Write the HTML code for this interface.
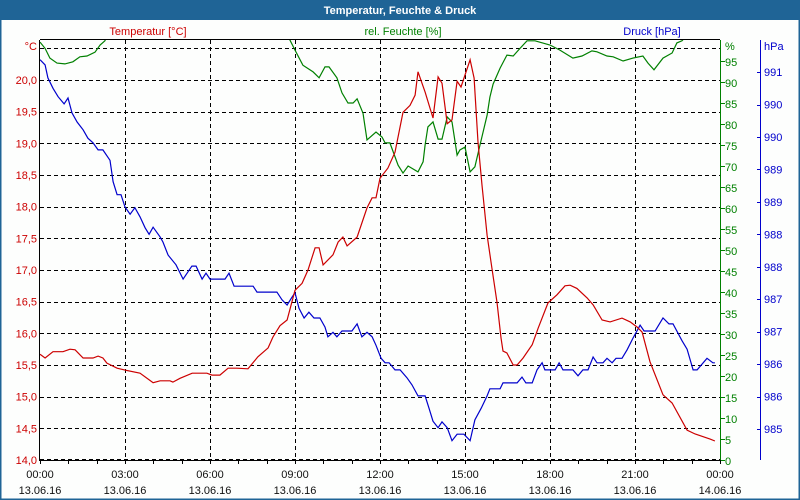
<!DOCTYPE html>
<html><head><meta charset="utf-8"><style>
html,body{margin:0;padding:0;background:#fff}
#wrap{position:relative;width:800px;height:500px;overflow:hidden;background:#fdfefd}
svg{position:absolute;left:0;top:0}
text{font-family:"Liberation Sans",sans-serif;font-size:11px}
</style></head><body>
<div id="wrap">
<svg id="chart" width="800" height="500" viewBox="0 0 800 500"></svg>
</div>
<script>
// Temperature series (hours since 13.06.16 00:00, °C)
const tempTimes=[0,.18,.46,.81,1.06,1.24,1.52,1.87,2.05,2.22,2.36,2.72,3.0,3.53,3.99,4.24,4.59,4.69,4.94,5.37,5.89,6.07,6.35,6.64,6.95,7.34,7.69,8.05,8.22,8.47,8.72,9.0,9.25,9.46,9.71,9.85,9.99,10.34,10.52,10.69,10.84,11.19,11.54,11.72,11.86,12.0,12.28,12.53,12.81,13.06,13.24,13.34,13.59,13.87,14.05,14.19,14.37,14.54,14.72,14.86,15.18,15.32,15.46,15.6,15.78,15.95,16.13,16.27,16.34,16.48,16.7,16.84,17.05,17.37,17.58,17.93,18.25,18.53,18.71,18.95,19.31,19.52,19.84,20.12,20.54,20.83,21.07,21.25,21.53,21.99,22.31,22.84,23.12,23.65,23.82];
const tempValues=[15.67,15.61,15.71,15.71,15.75,15.74,15.61,15.61,15.64,15.61,15.53,15.45,15.42,15.37,15.22,15.25,15.25,15.23,15.29,15.37,15.37,15.34,15.34,15.45,15.45,15.44,15.63,15.77,15.94,16.12,16.21,16.68,16.79,17.0,17.35,17.35,17.08,17.24,17.44,17.52,17.38,17.52,17.98,18.14,18.14,18.45,18.61,18.86,19.49,19.6,19.76,20.13,19.81,19.40,20.05,19.95,19.31,19.37,19.98,19.89,20.32,20.03,19.02,18.34,17.55,17.03,16.49,15.93,15.72,15.69,15.5,15.5,15.61,15.82,16.08,16.48,16.61,16.75,16.76,16.71,16.56,16.45,16.21,16.18,16.24,16.18,16.1,16.02,15.55,15.03,14.9,14.47,14.41,14.33,14.30];
// Humidity series (hours, %)
const humTimes=[0,.18,.35,.6,.88,1.16,1.41,1.66,1.94,2.12,2.29,2.47,5.65,8.65,8.82,9.0,9.28,9.64,9.85,10.06,10.2,10.48,10.66,10.87,11.05,11.19,11.4,11.54,11.86,12.07,12.18,12.35,12.64,12.81,12.99,13.34,13.52,13.59,13.69,13.87,14.05,14.19,14.37,14.54,14.72,14.82,15.0,15.18,15.35,15.53,15.78,15.88,15.99,16.24,16.48,16.7,16.94,17.19,17.47,18.0,18.35,18.81,19.13,19.48,19.66,20.01,20.23,20.58,20.93,21.28,21.46,21.67,21.99,22.31,22.48,22.66,22.94,24];
const humValues=[99.5,98,95.7,94.5,94.3,94.8,96,96.2,97.1,98.8,99.8,103,105,102,100,97.6,94,92.4,91,93.6,93.6,91,87.4,85,85,86,82.6,76.2,78.1,76.9,75.5,75.5,70.2,68.3,70,68.6,71,75,79.3,80.5,76.4,76.4,81.7,80.5,72.6,73.8,74.5,68.6,69.8,75,82.1,86.4,89.5,93.3,96.4,96.2,98,99.8,99.8,98.8,97.6,95.7,96.2,97.4,97.2,96.2,96,95,95.7,96.2,94.5,92.9,95.7,96.9,99.3,99.8,102,103];
// Pressure series (hours, hPa)
const presTimes=[0,.18,.28,.46,.64,.85,.99,1.13,1.31,1.52,1.69,1.87,2.05,2.22,2.47,2.58,2.72,2.86,3.0,3.18,3.35,3.53,3.71,3.85,3.99,4.24,4.34,4.52,4.8,5.05,5.36,5.51,5.72,5.86,6.0,6.53,6.67,6.85,7.52,7.66,8.36,8.54,8.72,8.89,9.0,9.14,9.32,9.49,9.67,9.88,10.06,10.16,10.34,10.48,10.66,11.01,11.19,11.36,11.54,11.72,11.86,12.04,12.18,12.32,12.53,12.71,12.95,13.13,13.34,13.59,13.73,13.87,14.05,14.19,14.37,14.54,14.72,14.96,15.18,15.35,15.57,15.78,15.88,16.24,16.34,16.84,17.01,17.15,17.37,17.54,17.72,17.82,18.18,18.32,18.46,18.81,18.99,19.16,19.34,19.52,19.66,19.87,20.01,20.19,20.33,20.54,20.72,20.93,21.18,21.32,21.71,21.99,22.2,22.34,22.66,22.84,23.05,23.19,23.54,23.75,23.82];
const presValues=[990.69,990.61,990.41,990.25,990.12,990.01,990.1,989.87,989.73,989.61,989.48,989.41,989.30,989.30,989.14,988.81,988.61,988.61,988.42,988.31,988.41,988.27,988.10,988.0,988.11,987.96,987.88,987.68,987.53,987.31,987.51,987.51,987.31,987.40,987.31,987.31,987.40,987.20,987.20,987.11,987.11,986.99,986.91,987.03,987.10,986.86,986.71,986.80,986.71,986.71,986.57,986.42,986.49,986.42,986.51,986.51,986.62,986.42,986.49,986.42,986.29,986.09,986.02,986.02,985.91,985.91,985.79,985.68,985.51,985.51,985.32,985.12,985.02,985.11,985.02,984.82,984.92,984.92,984.82,985.14,985.32,985.51,985.62,985.62,985.71,985.71,985.80,985.71,985.71,985.91,986.02,985.91,985.91,986.02,985.91,985.91,985.82,985.91,985.91,986.11,986.02,986.02,986.09,986.02,986.09,986.09,986.22,986.40,986.60,986.51,986.51,986.71,986.62,986.62,986.36,986.23,985.91,985.91,986.09,986.02,986.02];
// Axis ticks
const tempTicks=[14.0,14.5,15.0,15.5,16.0,16.5,17.0,17.5,18.0,18.5,19.0,19.5,20.0];
const humTicks=[0,5,10,15,20,25,30,35,40,45,50,55,60,65,70,75,80,85,90,95];
const presTicks=[985.0,985.5,986.0,986.5,987.0,987.5,988.0,988.5,989.0,989.5,990.0,990.5];
const timeTicks=[0,3,6,9,12,15,18,21,24];
const timeLabels=["00:00","03:00","06:00","09:00","12:00","15:00","18:00","21:00","00:00"];
const dateLabels=["13.06.16","13.06.16","13.06.16","13.06.16","13.06.16","13.06.16","13.06.16","13.06.16","14.06.16"];

const L=40,R=720,T=40,B=460;
const xS=h=>L+(R-L)*h/24;
const yT=v=>B-(v-14)*(B-T)/6.632;
const yH=v=>B-v*(B-T)/100;
const yP=v=>429-(v-985)*64.9;
const RED="#cc0000",GRN="#008000",BLU="#0000cc";
const svg=document.getElementById('chart');
const NS="http://www.w3.org/2000/svg";
function mk(tag,attrs,parent){const e=document.createElementNS(NS,tag);for(const k in attrs)e.setAttribute(k,attrs[k]);(parent||svg).appendChild(e);return e;}
function txt(x,y,s,fill,anchor,parent,weight){const e=mk('text',{x:x,y:y,fill:fill,'text-anchor':anchor||'start'},parent);if(weight)e.setAttribute('font-weight',weight);e.textContent=s;return e;}

// frame + title
let e=mk('rect',{x:0,y:0,width:800,height:20,fill:'#1f6496'});


mk('rect',{x:0.5,y:0.5,width:799,height:499,fill:'none',stroke:'#1f6496','stroke-width':2});
e=txt(400,14,'Temperatur, Feuchte & Druck','#fff','middle',null,'bold');



e=txt(148,35,'Temperatur [°C]',RED,'middle');


e=txt(403,35,'rel. Feuchte [%]',GRN,'middle');


e=txt(652,35,'Druck [hPa]',BLU,'middle');



// grid
const grid=mk('g',{stroke:'#000','stroke-dasharray':'4,3','stroke-width':1});


[...tempTicks.slice(1),20.5].forEach(v=>mk('line',{x1:L,x2:R,y1:Math.round(yT(v))+.5,y2:Math.round(yT(v))+.5},grid));
mk('line',{x1:L,x2:R,y1:459.5,y2:459.5},grid);
timeTicks.slice(1,-1).forEach(h=>mk('line',{x1:Math.round(xS(h))+.5,x2:Math.round(xS(h))+.5,y1:T,y2:B},grid));

// axes
mk('line',{x1:L-0.5,x2:L-0.5,y1:T,y2:B+1,stroke:'#000'});
mk('line',{x1:L,x2:R,y1:T-0.5,y2:T-0.5,stroke:'#000'});
mk('line',{x1:L,x2:R,y1:B+0.5,y2:B+0.5,stroke:'#000'});
e=mk('line',{x1:R+0.5,x2:R+0.5,y1:T,y2:B+1,stroke:GRN});


e=mk('line',{x1:760.5,x2:760.5,y1:T,y2:B,stroke:BLU});



// left ticks
const ly=mk('g',{});


txt(37,50,'°C',RED,'end',ly);
tempTicks.forEach(v=>txt(37,yT(v)+4,v.toFixed(1).replace('.',','),RED,'end',ly));
// humidity ticks
const gy=mk('g',{});


txt(725,50,'%',GRN,'start',gy);
humTicks.forEach(v=>{mk('line',{x1:R,x2:R+5,y1:Math.round(yH(v))+.5,y2:Math.round(yH(v))+.5,stroke:GRN},gy);txt(725,yH(v)+5,String(v),GRN,'start',gy);});
// pressure ticks
const py=mk('g',{});


txt(764,50,'hPa',BLU,'start',py);
presTicks.forEach(v=>{mk('line',{x1:757,x2:760,y1:Math.round(yP(v))+.5,y2:Math.round(yP(v))+.5,stroke:BLU},py);txt(764,yP(v)+4,String(Math.round(v+0.001)),BLU,'start',py);});
// time ticks
const tx=mk('g',{});


for(let h=0;h<=24;h++)mk('line',{x1:Math.round(xS(h))+.5,x2:Math.round(xS(h))+.5,y1:B,y2:B+4,stroke:'#000'},tx);
timeTicks.forEach((h,i)=>{txt(xS(h),478,timeLabels[i],'#111','middle',tx);txt(xS(h),494,dateLabels[i],'#111','middle',tx);});

// series
mk('clipPath',{id:'pc'}).appendChild(document.createElementNS(NS,'rect'));
const cr=svg.querySelector('#pc rect');cr.setAttribute('x',L);cr.setAttribute('y',T);cr.setAttribute('width',R-L);cr.setAttribute('height',B-T);
function series(times,vals,ys,color,name){
  const d=times.map((t,i)=>(i?'L':'M')+xS(t).toFixed(1)+','+ys(vals[i]).toFixed(1)).join('');
  const p=mk('path',{d:d,fill:'none',stroke:color,'stroke-width':1.2,'clip-path':'url(#pc)'});
  
  
}
series(humTimes,humValues,yH,GRN,'humidity-line');
series(presTimes,presValues,yP,BLU,'pressure-line');
series(tempTimes,tempValues,yT,RED,'temperature-line');
</script>
</body></html>
